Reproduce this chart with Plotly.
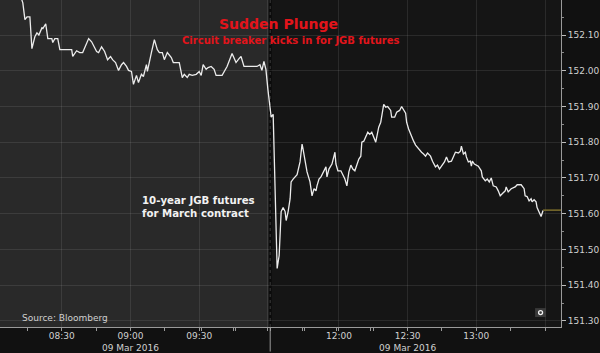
import plotly.graph_objects as go

DAY = "2016-03-09 "

# Morning session (HKT) then afternoon session after the lunch break
times = [
    "08:10:55", "08:13:00", "08:13:55", "08:14:50", "08:16:05", "08:16:58", "08:18:15", "08:19:10",
    "08:20:00", "08:21:20", "08:21:45", "08:23:00", "08:23:55", "08:25:40", "08:26:05", "08:26:58",
    "08:28:15", "08:29:10", "08:34:20", "08:34:47", "08:36:30", "08:37:50", "08:39:08", "08:40:26",
    "08:41:44", "08:43:02", "08:45:13", "08:46:05", "08:47:23", "08:48:42", "08:50:00", "08:51:18",
    "08:52:10", "08:53:29", "08:54:47", "08:56:05", "08:56:58", "08:58:16", "08:59:08", "09:00:26",
    "09:01:18", "09:02:37", "09:03:29", "09:04:47", "09:05:39", "09:06:58", "09:07:23", "09:09:08",
    "09:10:26", "09:11:44", "09:12:37", "09:13:55", "09:14:47", "09:16:05", "09:17:50", "09:18:42",
    "09:21:18", "09:22:37", "09:23:29", "09:24:47", "09:25:39", "09:26:58", "09:28:42", "09:30:00",
    "09:30:52", "09:31:44", "09:33:02", "09:33:55", "09:35:13", "09:36:31", "09:37:23", "09:40:00",
    "09:40:52", "09:42:10", "09:44:21", "09:45:13", "09:46:05", "09:47:23", "09:48:16", "09:49:34",
    "09:55:13", "09:56:31", "09:57:23", "09:58:16", "09:59:08", "10:00:00",
    "11:30:00", "11:30:26", "11:31:18", "11:31:44", "11:32:10", "11:32:36", "11:33:02", "11:33:55",
    "11:34:21", "11:34:47", "11:35:39", "11:36:31", "11:36:58", "11:37:50", "11:38:42", "11:39:08",
    "11:40:00", "11:40:52", "11:41:44", "11:43:02", "11:43:55", "11:44:21", "11:45:13", "11:46:05",
    "11:47:23", "11:48:16", "11:49:08", "11:50:00", "11:50:26", "11:51:18", "11:52:10", "11:53:29",
    "11:54:21", "11:54:47", "11:55:39", "11:56:58", "11:57:50", "11:58:16", "11:58:42", "11:59:34",
    "12:00:52", "12:02:37", "12:03:29", "12:04:21", "12:05:13", "12:06:05", "12:06:58", "12:07:50",
    "12:08:42", "12:09:34", "12:10:00", "12:10:52", "12:11:44", "12:12:37", "12:13:29", "12:14:21",
    "12:16:05", "12:16:31", "12:17:23", "12:18:16", "12:18:42", "12:19:34", "12:20:26", "12:21:18",
    "12:22:37", "12:23:02", "12:24:21", "12:25:13", "12:26:31", "12:27:23", "12:29:08", "12:29:34",
    "12:30:26", "12:31:44", "12:32:37", "12:33:29", "12:34:47", "12:36:05", "12:36:58", "12:37:50",
    "12:38:42", "12:40:00", "12:40:52", "12:42:10", "12:43:02", "12:43:55", "12:44:47", "12:46:05",
    "12:46:58", "12:47:50", "12:49:08", "12:50:00", "12:50:52", "12:52:10", "12:53:02", "12:53:29",
    "12:54:21", "12:55:13", "12:55:39", "12:56:31", "12:57:23", "12:57:50", "12:58:16", "12:59:08",
    "13:00:52", "13:02:10", "13:02:37", "13:03:55", "13:04:47", "13:05:39", "13:06:31", "13:07:23",
    "13:08:42", "13:09:34", "13:10:26", "13:11:18", "13:12:37", "13:13:02", "13:13:55", "13:15:13",
    "13:16:58", "13:17:50", "13:19:34", "13:20:52", "13:21:18", "13:22:10", "13:23:02", "13:23:55",
    "13:24:21", "13:25:13", "13:26:05", "13:26:31", "13:27:23", "13:28:16", "13:29:08",
]

prices = [
    152.230, 152.190, 152.143, 152.151, 152.151, 152.062, 152.095, 152.106,
    152.100, 152.120, 152.118, 152.131, 152.090, 152.090, 152.079, 152.090,
    152.090, 152.059, 152.059, 152.040, 152.056, 152.051, 152.051, 152.070,
    152.090, 152.081, 152.054, 152.051, 152.067, 152.054, 152.031, 152.040,
    152.031, 152.023, 152.001, 152.017, 152.023, 152.012, 152.001, 151.998,
    151.962, 151.987, 151.967, 151.990, 151.984, 152.017, 151.998, 152.051,
    152.087, 152.059, 152.051, 152.051, 152.031, 152.051, 152.037, 152.023,
    152.023, 151.981, 151.990, 151.981, 151.990, 151.987, 151.990, 151.998,
    151.987, 152.017, 152.004, 152.009, 152.012, 152.004, 151.987, 151.987,
    151.998, 152.012, 152.048, 152.037, 152.023, 152.034, 152.040, 152.012,
    152.012, 152.017, 152.001, 152.026, 152.004, 151.948,
    151.898, 151.870, 151.878, 151.761, 151.594, 151.503, 151.447, 151.483,
    151.578, 151.606, 151.617, 151.606, 151.581, 151.606, 151.642, 151.689,
    151.697, 151.703, 151.709, 151.745, 151.795, 151.781, 151.753, 151.717,
    151.689, 151.650, 151.670, 151.664, 151.678, 151.697, 151.703, 151.720,
    151.731, 151.703, 151.725, 151.739, 151.767, 151.772, 151.739, 151.720,
    151.720, 151.697, 151.678, 151.717, 151.736, 151.725, 151.720, 151.739,
    151.753, 151.761, 151.800, 151.803, 151.817, 151.828, 151.822, 151.828,
    151.800, 151.817, 151.842, 151.856, 151.870, 151.906, 151.898, 151.900,
    151.889, 151.870, 151.870, 151.884, 151.889, 151.900, 151.881, 151.856,
    151.837, 151.814, 151.803, 151.792, 151.781, 151.772, 151.767, 151.761,
    151.770, 151.761, 151.747, 151.731, 151.736, 151.725, 151.733, 151.745,
    151.759, 151.745, 151.747, 151.761, 151.772, 151.770, 151.775, 151.789,
    151.767, 151.772, 151.759, 151.745, 151.747, 151.733, 151.747, 151.739,
    151.733, 151.720, 151.703, 151.692, 151.697, 151.689, 151.700, 151.678,
    151.675, 151.664, 151.650, 151.656, 151.664, 151.675, 151.661, 151.670,
    151.675, 151.681, 151.681, 151.670, 151.650, 151.648, 151.636, 151.642,
    151.633, 151.639, 151.633, 151.617, 151.606, 151.592, 151.609,
]

last_price = 151.61

x_tick_times = ["08:30", "09:00", "09:30", "10:00", "12:00", "12:30", "13:00", "13:30"]
x_tick_text = ["08:30", "09:00<br>09 Mar 2016", "09:30", "", "12:00", "12:30<br>09 Mar 2016", "13:00", ""]
y_ticks = [151.30, 151.40, 151.50, 151.60, 151.70, 151.80, 151.90, 152.00, 152.10]

session_break = ["10:01", "11:30"]
x_range = ["08:03:02", "13:36:58"]
y_range = [151.283, 152.198]

FONT = "DejaVu Sans"
xs = [DAY + t for t in times]

fig = go.Figure()
fig.add_trace(go.Scatter(x=xs, y=prices, mode="lines",
                         line=dict(color="#ececec", width=1.3), hoverinfo="skip",
                         showlegend=False))

grid = "rgba(255,255,255,0.09)"
fig.update_layout(
    width=600, height=353,
    margin=dict(l=0, r=37, t=0, b=24),
    paper_bgcolor="#111111",
    plot_bgcolor="#151515",
    font=dict(family=FONT, color="#cfcfcf", size=9),
    showlegend=False,
    xaxis=dict(
        type="date",
        range=[DAY + x_range[0], DAY + x_range[1]],
        rangebreaks=[dict(bounds=[DAY + session_break[0], DAY + session_break[1]])],
        tickvals=[DAY + t for t in x_tick_times],
        ticktext=x_tick_text,
        ticks="",
        showgrid=True, gridcolor=grid, gridwidth=1,
        showline=True, linecolor="#9a9a9a", linewidth=1,
        zeroline=False,
        tickfont=dict(family=FONT, size=9, color="#d0d0d0"),
        minor=dict(ticks="outside", ticklen=3, tickcolor="#9a9a9a",
                   dtick=15 * 60 * 1000, tick0=DAY + "08:15", showgrid=False),
    ),
    yaxis=dict(
        side="right",
        range=y_range,
        tickvals=y_ticks,
        tickformat=".2f",
        ticks="outside", ticklen=4, tickcolor="#bdbdbd",
        showgrid=True, gridcolor=grid, gridwidth=1,
        showline=True, linecolor="#9a9a9a", linewidth=1,
        zeroline=False,
        tickfont=dict(family=FONT, size=9, color="#d0d0d0"),
        minor=dict(ticks="outside", ticklen=2, tickcolor="#8a8a8a", dtick=0.05, showgrid=False),
    ),
)

# morning session shading
fig.add_shape(type="rect", xref="x", yref="paper",
              x0=DAY + x_range[0], x1=DAY + session_break[0], y0=0, y1=1,
              fillcolor="#292929", line=dict(width=0), layer="below")
# session separator
fig.add_shape(type="line", xref="x", yref="paper",
              x0=DAY + session_break[1], x1=DAY + session_break[1], y0=0, y1=1,
              line=dict(color="#0b0b0b", width=3), layer="below")
fig.add_shape(type="line", xref="x", yref="paper",
              x0=DAY + session_break[1], x1=DAY + session_break[1], y0=0, y1=1,
              line=dict(color="#3a3a3a", width=1, dash="dot"), layer="below")
fig.add_shape(type="line", xref="x", yref="paper",
              x0=DAY + session_break[1], x1=DAY + session_break[1], y0=-0.075, y1=0,
              line=dict(color="#9a9a9a", width=1))
# last price marker
fig.add_shape(type="line", xref="x", yref="y",
              x0=DAY + times[-1], x1=DAY + x_range[1], y0=last_price, y1=last_price,
              line=dict(color="#7d6e2c", width=1.5))

# small chart control icon (bottom right)
fig.add_shape(type="rect", xref="paper", yref="paper",
              x0=537 / 563, x1=548 / 563, y0=1 - 319 / 329, y1=1 - 310 / 329,
              fillcolor="#3a3a3a", line=dict(width=0))
fig.add_shape(type="circle", xref="paper", yref="paper",
              x0=540.5 / 563, x1=544.5 / 563, y0=1 - 316.5 / 329, y1=1 - 312.5 / 329,
              fillcolor="#3a3a3a", line=dict(color="#f0f0f0", width=1.3))

fig.add_annotation(text="<b>Sudden Plunge</b>", xref="paper", yref="paper",
                   x=0.497, y=0.928, xanchor="center", yanchor="middle", showarrow=False,
                   font=dict(family=FONT, size=14, color="#e3141b"))
fig.add_annotation(text="<b>Circuit breaker kicks in for JGB futures</b>", xref="paper", yref="paper",
                   x=0.517, y=0.875, xanchor="center", yanchor="middle", showarrow=False,
                   font=dict(family=FONT, size=10, color="#e3141b"))
fig.add_annotation(text="<b>10-year JGB futures<br>for March contract</b>", xref="paper", yref="paper",
                   x=0.2487, y=0.366, xanchor="left", yanchor="middle", align="left", showarrow=False,
                   font=dict(family=FONT, size=10.2, color="#f2f2f2"))
fig.add_annotation(text="Source: Bloomberg", xref="paper", yref="paper",
                   x=0.036, y=0.027, xanchor="left", yanchor="middle", showarrow=False,
                   font=dict(family=FONT, size=9, color="#d0d0d0"))

fig.write_html("out.html")
